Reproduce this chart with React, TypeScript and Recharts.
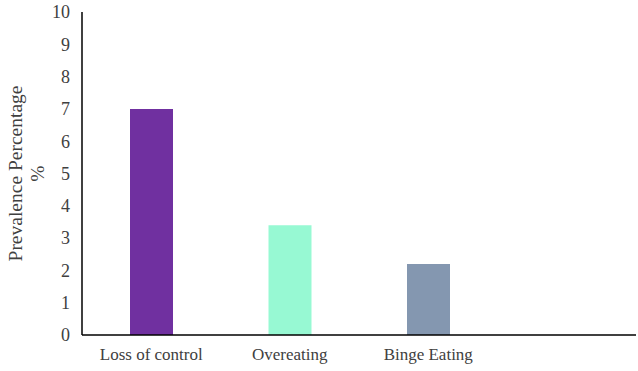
import React from "react";
import { BarChart, Bar, XAxis, YAxis, Cell } from "recharts";

const categories = ["Loss of control", "Overeating", "Binge Eating", ""];
const values: (number | null)[] = [7, 3.4, 2.2, null];
const colors = ["#7030A0", "#97F9D3", "#8497B0", "#ffffff"];
const yTicks = [0, 1, 2, 3, 4, 5, 6, 7, 8, 9, 10];

const data = categories.map((c, i) => ({ name: c, value: values[i] }));

const FONT = "'Liberation Serif', 'Times New Roman', serif";

const YLabel = (props: any) => {
  const vb = props.viewBox || { x: 0, y: 12, width: 82, height: 323 };
  const cy = vb.y + vb.height / 2;
  return (
    <g>
      <text
        x={0}
        y={0}
        transform={`translate(15, ${cy}) rotate(-90)`}
        textAnchor="middle"
        dominantBaseline="central"
        fontFamily={FONT}
        fontSize={19.5}
        fill="#404040"
      >
        Prevalence Percentage
      </text>
      <text
        x={0}
        y={0}
        transform={`translate(37, ${cy}) rotate(-90)`}
        textAnchor="middle"
        dominantBaseline="central"
        fontFamily={FONT}
        fontSize={19.5}
        fill="#404040"
      >
        %
      </text>
    </g>
  );
};

export default function App() {
  return (
    <div style={{ position: "absolute", left: 0, top: 0, width: 638, height: 371, background: "#fff" }}>
      <BarChart
        width={638}
        height={371}
        data={data}
        margin={{ top: 12, right: 2, left: 0, bottom: 0 }}
      >
        <XAxis
          dataKey="name"
          height={36}
          tickLine={false}
          tickSize={0}
          tickMargin={13}
          axisLine={{ stroke: "#000", strokeWidth: 1.5 }}
          tick={{ fontFamily: FONT, fontSize: 17, fill: "#404040" }}
          interval={0}
        />
        <YAxis
          width={82}
          domain={[0, 10]}
          ticks={yTicks}
          interval={0}
          tickLine={false}
          tickSize={0}
          tickMargin={12}
          axisLine={{ stroke: "#000", strokeWidth: 1.5 }}
          tick={{ fontFamily: FONT, fontSize: 18, fill: "#404040" }}
          label={<YLabel />}
        />
        <Bar dataKey="value" barSize={43} isAnimationActive={false}>
          {data.map((d, i) => (
            <Cell key={i} fill={colors[i]} />
          ))}
        </Bar>
      </BarChart>
    </div>
  );
}
